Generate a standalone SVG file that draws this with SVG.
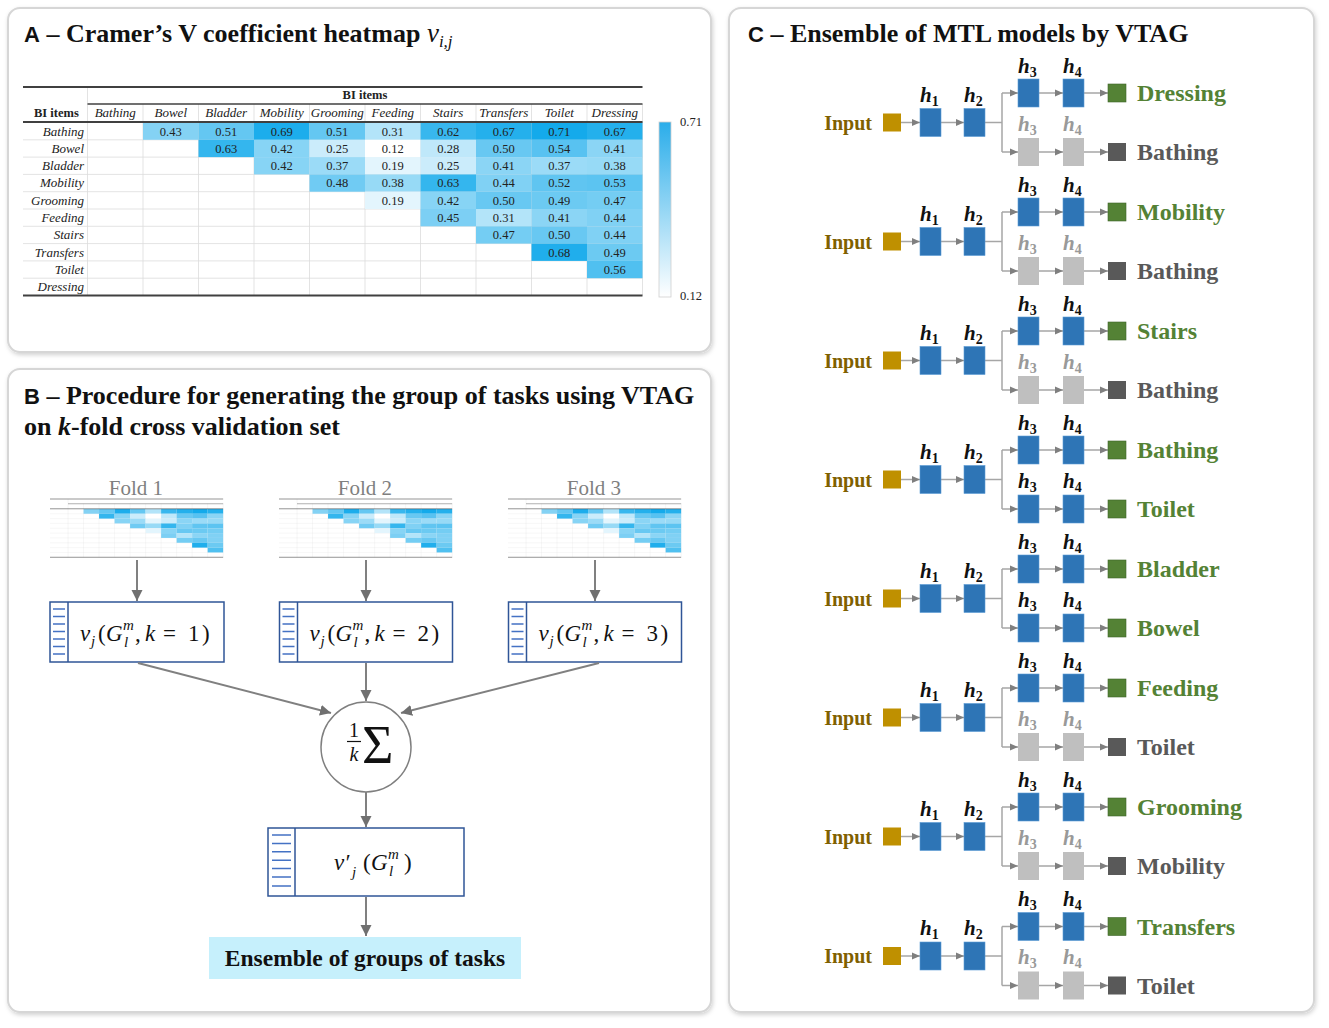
<svg xmlns="http://www.w3.org/2000/svg" width="1329" height="1028" viewBox="0 0 1329 1028">
<style>
.panel{fill:#fff;stroke:#d6d6d6;stroke-width:2;filter:url(#sh)}
.ttl{font-family:"Liberation Serif",serif;font-weight:bold;font-size:26px;fill:#111}
.ttlA{font-family:"Liberation Sans",sans-serif;font-weight:bold;font-size:22px}
.hm{font-family:"Liberation Serif",serif;font-size:12.5px;fill:#222}
.hmi{font-style:italic;font-size:13px}
.hmb{font-weight:bold}
.num{text-anchor:middle}
.grid{stroke:#dcdcdc;stroke-width:0.8;fill:none}
.rule{stroke:#404040;stroke-width:2}
.math{font-family:"Liberation Serif","DejaVu Serif",serif;font-size:23px;fill:#111}
.it{font-style:italic}
.sc{font-size:15px}
.box{fill:#fff;stroke:#2F5597;stroke-width:1.5}
.strip{stroke:#4472C4;stroke-width:1.5}
.fold{font-family:"Liberation Serif",serif;font-size:21px;fill:#7f7f7f;text-anchor:middle}
.conB{stroke:#808080;stroke-width:2;fill:none;marker-end:url(#a2)}
.conC{stroke:#a6a6a6;stroke-width:1.5;fill:none}
.arr{marker-end:url(#a1)}
.inp{font-family:"Liberation Serif",serif;font-weight:bold;font-size:20px;fill:#7F6000;text-anchor:end}
.gold{fill:#BF9000}
.hb{fill:#2E75B6;stroke:#5b9bd5;stroke-width:0.6}
.hg{fill:#BFBFBF}
.og{fill:#548235;stroke:#3f6428;stroke-width:0.6}
.od{fill:#595959}
.hl{font-family:"Liberation Serif",serif;font-weight:bold;font-style:italic;font-size:21px;fill:#111}
.g{fill:#999}
.sub{font-size:14px;font-style:normal}
.out{font-family:"Liberation Serif",serif;font-weight:bold;font-size:24px}
.lg{fill:#548235}
.ld{fill:#595959}
.ens{fill:#C6F0FC}
.enst{font-family:"Liberation Serif",serif;font-weight:bold;font-size:23.5px;fill:#111;text-anchor:middle}
</style>
<defs>
<filter id="sh" x="-3%" y="-3%" width="106%" height="106%"><feDropShadow dx="1" dy="2" stdDeviation="2" flood-color="#000" flood-opacity="0.18"/></filter>
<linearGradient id="gb" x1="0" y1="0" x2="0" y2="1"><stop offset="0" stop-color="#2AADEA"/><stop offset="1" stop-color="#ffffff"/></linearGradient>
<marker id="a1" markerUnits="userSpaceOnUse" markerWidth="8" markerHeight="8" refX="8" refY="4" orient="auto"><path d="M0,0.5 L8,4 L0,7.5z" fill="#7f7f7f"/></marker>
<marker id="a2" markerUnits="userSpaceOnUse" markerWidth="12" markerHeight="12" refX="11" refY="6" orient="auto"><path d="M0,0.5 L11,6 L0,11.5z" fill="#707070"/></marker>
<g id="trunkRects">
<rect class="gold" x="883" y="-9" width="18" height="18"/>
<rect class="hb" x="920" y="-14" width="21" height="28"/>
<rect class="hb" x="964" y="-14" width="21" height="28"/>
</g>
<g id="armB"><rect class="hb" x="1018" y="-14" width="21" height="28"/><rect class="hb" x="1063" y="-14" width="21" height="28"/></g>
<g id="armG"><rect class="hg" x="1018" y="-14" width="21" height="28"/><rect class="hg" x="1063" y="-14" width="21" height="28"/></g>
<g id="trunkLinks">
<line class="conC arr" x1="901" y1="0" x2="920" y2="0"/>
<line class="conC arr" x1="941" y1="0" x2="964" y2="0"/>
<path class="conC" d="M985,0H1002M1002,-29.5V29.5"/>
<line class="conC arr" x1="1002" y1="-29.5" x2="1018" y2="-29.5"/>
<line class="conC arr" x1="1002" y1="29.5" x2="1018" y2="29.5"/>
</g>
<g id="armLinks">
<line class="conC arr" x1="1039" y1="0" x2="1063" y2="0"/>
<line class="conC arr" x1="1084" y1="0" x2="1108" y2="0"/>
</g>
<g id="boxStrip">
<path class="strip" d="M53,609H65M53,616.5H65M53,624H65M53,631.5H65M53,639H65M53,646.5H65M53,654H65"/>
</g>
</defs>

<rect class="panel" x="8" y="8" width="703" height="344" rx="12"/>
<rect class="panel" x="8" y="369" width="703" height="643" rx="12"/>
<rect class="panel" x="729" y="8" width="585" height="1004" rx="12"/>

<!-- Panel A -->
<g id="panelA">
<text class="ttl" x="24" y="42"><tspan class="ttlA">A</tspan> – Cramer’s V coefficient heatmap <tspan font-style="italic" font-weight="normal" style="font-size:27px">v</tspan><tspan font-style="italic" font-weight="normal" style="font-size:17px" dy="5">i,j</tspan></text>
<g id="hmShapes">
<path class="grid" d="M87.5,87V295.5M143,104V295.5M198.5,104V295.5M254,104V295.5M309.5,104V295.5M365,104V295.5M420.5,104V295.5M476,104V295.5M531.5,104V295.5M587,104V295.5M642.5,104V295.5M23,139.8H642.5M23,157.1H642.5M23,174.4H642.5M23,191.7H642.5M23,209H642.5M23,226.3H642.5M23,243.6H642.5M23,260.9H642.5M23,278.2H642.5"/>
<g id="cells">
<rect x="143" y="122.5" width="55.5" height="17.3" fill="#84D2F4"/>
<rect x="198.5" y="122.5" width="55.5" height="17.3" fill="#64C7F2"/>
<rect x="254" y="122.5" width="55.5" height="17.3" fill="#1CADEC"/>
<rect x="309.5" y="122.5" width="55.5" height="17.3" fill="#64C7F2"/>
<rect x="365" y="122.5" width="55.5" height="17.3" fill="#B3E4F9"/>
<rect x="420.5" y="122.5" width="55.5" height="17.3" fill="#38B7EE"/>
<rect x="476" y="122.5" width="55.5" height="17.3" fill="#24B0EC"/>
<rect x="531.5" y="122.5" width="55.5" height="17.3" fill="#14AAEB"/>
<rect x="587" y="122.5" width="55.5" height="17.3" fill="#24B0EC"/>
<rect x="198.5" y="139.8" width="55.5" height="17.3" fill="#34B6EE"/>
<rect x="254" y="139.8" width="55.5" height="17.3" fill="#87D4F5"/>
<rect x="309.5" y="139.8" width="55.5" height="17.3" fill="#CBECFB"/>
<rect x="365" y="139.8" width="55.5" height="17.3" fill="#FFFFFF"/>
<rect x="420.5" y="139.8" width="55.5" height="17.3" fill="#BFE8FA"/>
<rect x="476" y="139.8" width="55.5" height="17.3" fill="#68C8F2"/>
<rect x="531.5" y="139.8" width="55.5" height="17.3" fill="#58C2F1"/>
<rect x="587" y="139.8" width="55.5" height="17.3" fill="#8BD5F5"/>
<rect x="254" y="157.1" width="55.5" height="17.3" fill="#87D4F5"/>
<rect x="309.5" y="157.1" width="55.5" height="17.3" fill="#9BDBF7"/>
<rect x="365" y="157.1" width="55.5" height="17.3" fill="#E3F5FD"/>
<rect x="420.5" y="157.1" width="55.5" height="17.3" fill="#CBECFB"/>
<rect x="476" y="157.1" width="55.5" height="17.3" fill="#8BD5F5"/>
<rect x="531.5" y="157.1" width="55.5" height="17.3" fill="#9BDBF7"/>
<rect x="587" y="157.1" width="55.5" height="17.3" fill="#97DAF6"/>
<rect x="309.5" y="174.4" width="55.5" height="17.3" fill="#70CBF3"/>
<rect x="365" y="174.4" width="55.5" height="17.3" fill="#97DAF6"/>
<rect x="420.5" y="174.4" width="55.5" height="17.3" fill="#34B6EE"/>
<rect x="476" y="174.4" width="55.5" height="17.3" fill="#80D1F4"/>
<rect x="531.5" y="174.4" width="55.5" height="17.3" fill="#60C5F1"/>
<rect x="587" y="174.4" width="55.5" height="17.3" fill="#5CC4F1"/>
<rect x="365" y="191.7" width="55.5" height="17.3" fill="#E3F5FD"/>
<rect x="420.5" y="191.7" width="55.5" height="17.3" fill="#87D4F5"/>
<rect x="476" y="191.7" width="55.5" height="17.3" fill="#68C8F2"/>
<rect x="531.5" y="191.7" width="55.5" height="17.3" fill="#6CCAF2"/>
<rect x="587" y="191.7" width="55.5" height="17.3" fill="#74CDF3"/>
<rect x="420.5" y="209" width="55.5" height="17.3" fill="#7CCFF4"/>
<rect x="476" y="209" width="55.5" height="17.3" fill="#B3E4F9"/>
<rect x="531.5" y="209" width="55.5" height="17.3" fill="#8BD5F5"/>
<rect x="587" y="209" width="55.5" height="17.3" fill="#80D1F4"/>
<rect x="476" y="226.3" width="55.5" height="17.3" fill="#74CDF3"/>
<rect x="531.5" y="226.3" width="55.5" height="17.3" fill="#68C8F2"/>
<rect x="587" y="226.3" width="55.5" height="17.3" fill="#80D1F4"/>
<rect x="531.5" y="243.6" width="55.5" height="17.3" fill="#20AEEC"/>
<rect x="587" y="243.6" width="55.5" height="17.3" fill="#6CCAF2"/>
<rect x="587" y="260.9" width="55.5" height="17.3" fill="#50C0F0"/>
</g>
<path class="rule" d="M23,87H642.5M23,122H642.5M23,295.5H642.5"/>
<path stroke="#404040" stroke-width="1.5" d="M87.5,104H642.5"/>
</g>
<g id="hmText">
<text class="hm hmb" x="365" y="99" text-anchor="middle">BI items</text>
<text class="hm hmb" x="34" y="117">BI items</text>
<text class="hm hmi num" y="117"><tspan x="115.25">Bathing</tspan><tspan x="170.75">Bowel</tspan><tspan x="226.25">Bladder</tspan><tspan x="281.75">Mobility</tspan><tspan x="337.25">Grooming</tspan><tspan x="392.75">Feeding</tspan><tspan x="448.25">Stairs</tspan><tspan x="503.75">Transfers</tspan><tspan x="559.25">Toilet</tspan><tspan x="614.75">Dressing</tspan></text>
<text class="hm hmi" text-anchor="end"><tspan x="84" y="135.5">Bathing</tspan><tspan x="84" y="152.8">Bowel</tspan><tspan x="84" y="170.1">Bladder</tspan><tspan x="84" y="187.4">Mobility</tspan><tspan x="84" y="204.7">Grooming</tspan><tspan x="84" y="222">Feeding</tspan><tspan x="84" y="239.3">Stairs</tspan><tspan x="84" y="256.6">Transfers</tspan><tspan x="84" y="273.9">Toilet</tspan><tspan x="84" y="291.2">Dressing</tspan></text>
<text class="hm num" y="135.5"><tspan x="170.75">0.43</tspan><tspan x="226.25">0.51</tspan><tspan x="281.75">0.69</tspan><tspan x="337.25">0.51</tspan><tspan x="392.75">0.31</tspan><tspan x="448.25">0.62</tspan><tspan x="503.75">0.67</tspan><tspan x="559.25">0.71</tspan><tspan x="614.75">0.67</tspan></text>
<text class="hm num" y="152.8"><tspan x="226.25">0.63</tspan><tspan x="281.75">0.42</tspan><tspan x="337.25">0.25</tspan><tspan x="392.75">0.12</tspan><tspan x="448.25">0.28</tspan><tspan x="503.75">0.50</tspan><tspan x="559.25">0.54</tspan><tspan x="614.75">0.41</tspan></text>
<text class="hm num" y="170.1"><tspan x="281.75">0.42</tspan><tspan x="337.25">0.37</tspan><tspan x="392.75">0.19</tspan><tspan x="448.25">0.25</tspan><tspan x="503.75">0.41</tspan><tspan x="559.25">0.37</tspan><tspan x="614.75">0.38</tspan></text>
<text class="hm num" y="187.4"><tspan x="337.25">0.48</tspan><tspan x="392.75">0.38</tspan><tspan x="448.25">0.63</tspan><tspan x="503.75">0.44</tspan><tspan x="559.25">0.52</tspan><tspan x="614.75">0.53</tspan></text>
<text class="hm num" y="204.7"><tspan x="392.75">0.19</tspan><tspan x="448.25">0.42</tspan><tspan x="503.75">0.50</tspan><tspan x="559.25">0.49</tspan><tspan x="614.75">0.47</tspan></text>
<text class="hm num" y="222"><tspan x="448.25">0.45</tspan><tspan x="503.75">0.31</tspan><tspan x="559.25">0.41</tspan><tspan x="614.75">0.44</tspan></text>
<text class="hm num" y="239.3"><tspan x="503.75">0.47</tspan><tspan x="559.25">0.50</tspan><tspan x="614.75">0.44</tspan></text>
<text class="hm num" y="256.6"><tspan x="559.25">0.68</tspan><tspan x="614.75">0.49</tspan></text>
<text class="hm num" y="273.9"><tspan x="614.75">0.56</tspan></text>
</g>
<g id="colorbar">
<rect x="659" y="122" width="12" height="175" fill="url(#gb)" stroke="#cfcfcf" stroke-width="0.8"/>
<text class="hm" x="680" y="126">0.71</text>
<text class="hm" x="680" y="300">0.12</text>
</g>
</g>

<!-- Panel B -->
<g id="panelB">
<text class="ttl" x="24" y="404"><tspan class="ttlA">B</tspan> – Procedure for generating the group of tasks using VTAG</text>
<text class="ttl" x="24" y="435">on <tspan font-style="italic">k</tspan>-fold cross validation set</text>

<g id="fold1">
<text class="fold" x="136" y="495">Fold 1</text>
<use href="#hmShapes" transform="translate(50,499) scale(0.2795) translate(-23,-87)"/>
</g>
<g id="fold2">
<text class="fold" x="365" y="495">Fold 2</text>
<use href="#hmShapes" transform="translate(279,499) scale(0.2795) translate(-23,-87)"/>
</g>
<g id="fold3">
<text class="fold" x="594" y="495">Fold 3</text>
<use href="#hmShapes" transform="translate(508,499) scale(0.2795) translate(-23,-87)"/>
</g>

<g id="box1">
<rect class="box" x="50" y="602" width="174" height="60"/>
<line stroke="#2F5597" stroke-width="1.5" x1="68" y1="602" x2="68" y2="662"/>
<use href="#boxStrip"/>
<text class="math"><tspan class="it" x="80" y="641">v</tspan><tspan class="it sc" x="91" y="646">j</tspan><tspan x="98" y="641">(</tspan><tspan class="it" x="106" y="641">G</tspan><tspan class="it sc" x="123" y="630">m</tspan><tspan class="it sc" x="124" y="647">l</tspan><tspan x="135" y="641">,</tspan><tspan class="it" x="145" y="641">k</tspan><tspan x="163" y="641">=</tspan><tspan x="188" y="641">1</tspan><tspan x="202" y="641">)</tspan></text>
</g>
<g id="box2" transform="translate(229.5,0)">
<rect class="box" x="50" y="602" width="173" height="60"/>
<line stroke="#2F5597" stroke-width="1.5" x1="68" y1="602" x2="68" y2="662"/>
<use href="#boxStrip"/>
<text class="math"><tspan class="it" x="80" y="641">v</tspan><tspan class="it sc" x="91" y="646">j</tspan><tspan x="98" y="641">(</tspan><tspan class="it" x="106" y="641">G</tspan><tspan class="it sc" x="123" y="630">m</tspan><tspan class="it sc" x="124" y="647">l</tspan><tspan x="135" y="641">,</tspan><tspan class="it" x="145" y="641">k</tspan><tspan x="163" y="641">=</tspan><tspan x="188" y="641">2</tspan><tspan x="202" y="641">)</tspan></text>
</g>
<g id="box3" transform="translate(458.5,0)">
<rect class="box" x="50" y="602" width="173" height="60"/>
<line stroke="#2F5597" stroke-width="1.5" x1="68" y1="602" x2="68" y2="662"/>
<use href="#boxStrip"/>
<text class="math"><tspan class="it" x="80" y="641">v</tspan><tspan class="it sc" x="91" y="646">j</tspan><tspan x="98" y="641">(</tspan><tspan class="it" x="106" y="641">G</tspan><tspan class="it sc" x="123" y="630">m</tspan><tspan class="it sc" x="124" y="647">l</tspan><tspan x="135" y="641">,</tspan><tspan class="it" x="145" y="641">k</tspan><tspan x="163" y="641">=</tspan><tspan x="188" y="641">3</tspan><tspan x="202" y="641">)</tspan></text>
</g>

<g id="sum">
<circle cx="366" cy="747" r="45" fill="#fff" stroke="#7f7f7f" stroke-width="1.5"/>
<text class="math" x="354" y="737" text-anchor="middle" style="font-size:20px">1</text>
<line x1="347" y1="741.5" x2="361" y2="741.5" stroke="#111" stroke-width="1.2"/>
<text class="math it" x="354" y="761" text-anchor="middle" style="font-size:20px">k</text>
<text class="math" x="362" y="763" style="font-size:54px">Σ</text>
</g>

<g id="vbox">
<rect class="box" x="268" y="828" width="196" height="68"/>
<line stroke="#2F5597" stroke-width="1.5" x1="295" y1="828" x2="295" y2="896"/>
<path class="strip" d="M272,835H291M272,843.4H291M272,851.8H291M272,860.2H291M272,868.6H291M272,877H291M272,886H291"/>
<text class="math"><tspan class="it" x="334" y="870">v′</tspan><tspan class="it sc" x="352" y="877">j</tspan><tspan x="363" y="870">(</tspan><tspan class="it" x="371" y="870">G</tspan><tspan class="it sc" x="388" y="859">m</tspan><tspan class="it sc" x="389" y="876">l</tspan><tspan x="404" y="870">)</tspan></text>
</g>

<g id="ensemble">
<rect class="ens" x="209" y="937" width="312" height="42"/>
<text class="enst" x="365" y="966">Ensemble of groups of tasks</text>
</g>

<g id="connectorsB">
<line class="conB" x1="137" y1="560" x2="137" y2="601"/>
<line class="conB" x1="366" y1="560" x2="366" y2="601"/>
<line class="conB" x1="595" y1="560" x2="595" y2="601"/>
<line class="conB" x1="138" y1="663" x2="331" y2="713"/>
<line class="conB" x1="366" y1="663" x2="366" y2="701"/>
<line class="conB" x1="599" y1="663" x2="401" y2="713"/>
<line class="conB" x1="366" y1="792" x2="366" y2="827"/>
<line class="conB" x1="366" y1="897" x2="366" y2="936"/>
</g>
</g>

<!-- Panel C -->
<g id="panelC">
<text class="ttl" x="748" y="42"><tspan class="ttlA">C</tspan> – Ensemble of MTL models by VTAG</text>

<g id="connectorsC">
<use href="#trunkLinks" y="122.5"/><use href="#armLinks" y="93"/><use href="#armLinks" y="152"/>
<use href="#trunkLinks" y="241.5"/><use href="#armLinks" y="212"/><use href="#armLinks" y="271"/>
<use href="#trunkLinks" y="360.5"/><use href="#armLinks" y="331"/><use href="#armLinks" y="390"/>
<use href="#trunkLinks" y="479.5"/><use href="#armLinks" y="450"/><use href="#armLinks" y="509"/>
<use href="#trunkLinks" y="598.5"/><use href="#armLinks" y="569"/><use href="#armLinks" y="628"/>
<use href="#trunkLinks" y="717.5"/><use href="#armLinks" y="688"/><use href="#armLinks" y="747"/>
<use href="#trunkLinks" y="836.5"/><use href="#armLinks" y="807"/><use href="#armLinks" y="866"/>
<use href="#trunkLinks" y="956"/><use href="#armLinks" y="926.5"/><use href="#armLinks" y="985.5"/>
</g>

<g id="model1" transform="translate(0,122.5)">
<text class="inp" x="872" y="7">Input</text>
<use href="#trunkRects"/><use href="#armB" y="-29.5"/><use href="#armG" y="29.5"/>
<rect class="og" x="1108" y="-38.5" width="18" height="18"/><rect class="od" x="1108" y="20.5" width="18" height="18"/>
<text class="hl" x="920" y="-21">h<tspan class="sub" dy="4">1</tspan></text>
<text class="hl" x="964" y="-21">h<tspan class="sub" dy="4">2</tspan></text>
<text class="hl" x="1018" y="-50">h<tspan class="sub" dy="4">3</tspan></text>
<text class="hl" x="1063" y="-50">h<tspan class="sub" dy="4">4</tspan></text>
<text class="hl g" x="1018" y="8">h<tspan class="sub" dy="4">3</tspan></text>
<text class="hl g" x="1063" y="8">h<tspan class="sub" dy="4">4</tspan></text>
<text class="out lg" x="1137" y="-21.5">Dressing</text>
<text class="out ld" x="1137" y="37.5">Bathing</text>
</g>

<g id="model2" transform="translate(0,241.5)">
<text class="inp" x="872" y="7">Input</text>
<use href="#trunkRects"/><use href="#armB" y="-29.5"/><use href="#armG" y="29.5"/>
<rect class="og" x="1108" y="-38.5" width="18" height="18"/><rect class="od" x="1108" y="20.5" width="18" height="18"/>
<text class="hl" x="920" y="-21">h<tspan class="sub" dy="4">1</tspan></text>
<text class="hl" x="964" y="-21">h<tspan class="sub" dy="4">2</tspan></text>
<text class="hl" x="1018" y="-50">h<tspan class="sub" dy="4">3</tspan></text>
<text class="hl" x="1063" y="-50">h<tspan class="sub" dy="4">4</tspan></text>
<text class="hl g" x="1018" y="8">h<tspan class="sub" dy="4">3</tspan></text>
<text class="hl g" x="1063" y="8">h<tspan class="sub" dy="4">4</tspan></text>
<text class="out lg" x="1137" y="-21.5">Mobility</text>
<text class="out ld" x="1137" y="37.5">Bathing</text>
</g>

<g id="model3" transform="translate(0,360.5)">
<text class="inp" x="872" y="7">Input</text>
<use href="#trunkRects"/><use href="#armB" y="-29.5"/><use href="#armG" y="29.5"/>
<rect class="og" x="1108" y="-38.5" width="18" height="18"/><rect class="od" x="1108" y="20.5" width="18" height="18"/>
<text class="hl" x="920" y="-21">h<tspan class="sub" dy="4">1</tspan></text>
<text class="hl" x="964" y="-21">h<tspan class="sub" dy="4">2</tspan></text>
<text class="hl" x="1018" y="-50">h<tspan class="sub" dy="4">3</tspan></text>
<text class="hl" x="1063" y="-50">h<tspan class="sub" dy="4">4</tspan></text>
<text class="hl g" x="1018" y="8">h<tspan class="sub" dy="4">3</tspan></text>
<text class="hl g" x="1063" y="8">h<tspan class="sub" dy="4">4</tspan></text>
<text class="out lg" x="1137" y="-21.5">Stairs</text>
<text class="out ld" x="1137" y="37.5">Bathing</text>
</g>

<g id="model4" transform="translate(0,479.5)">
<text class="inp" x="872" y="7">Input</text>
<use href="#trunkRects"/><use href="#armB" y="-29.5"/><use href="#armB" y="29.5"/>
<rect class="og" x="1108" y="-38.5" width="18" height="18"/><rect class="og" x="1108" y="20.5" width="18" height="18"/>
<text class="hl" x="920" y="-21">h<tspan class="sub" dy="4">1</tspan></text>
<text class="hl" x="964" y="-21">h<tspan class="sub" dy="4">2</tspan></text>
<text class="hl" x="1018" y="-50">h<tspan class="sub" dy="4">3</tspan></text>
<text class="hl" x="1063" y="-50">h<tspan class="sub" dy="4">4</tspan></text>
<text class="hl" x="1018" y="8">h<tspan class="sub" dy="4">3</tspan></text>
<text class="hl" x="1063" y="8">h<tspan class="sub" dy="4">4</tspan></text>
<text class="out lg" x="1137" y="-21.5">Bathing</text>
<text class="out lg" x="1137" y="37.5">Toilet</text>
</g>

<g id="model5" transform="translate(0,598.5)">
<text class="inp" x="872" y="7">Input</text>
<use href="#trunkRects"/><use href="#armB" y="-29.5"/><use href="#armB" y="29.5"/>
<rect class="og" x="1108" y="-38.5" width="18" height="18"/><rect class="og" x="1108" y="20.5" width="18" height="18"/>
<text class="hl" x="920" y="-21">h<tspan class="sub" dy="4">1</tspan></text>
<text class="hl" x="964" y="-21">h<tspan class="sub" dy="4">2</tspan></text>
<text class="hl" x="1018" y="-50">h<tspan class="sub" dy="4">3</tspan></text>
<text class="hl" x="1063" y="-50">h<tspan class="sub" dy="4">4</tspan></text>
<text class="hl" x="1018" y="8">h<tspan class="sub" dy="4">3</tspan></text>
<text class="hl" x="1063" y="8">h<tspan class="sub" dy="4">4</tspan></text>
<text class="out lg" x="1137" y="-21.5">Bladder</text>
<text class="out lg" x="1137" y="37.5">Bowel</text>
</g>

<g id="model6" transform="translate(0,717.5)">
<text class="inp" x="872" y="7">Input</text>
<use href="#trunkRects"/><use href="#armB" y="-29.5"/><use href="#armG" y="29.5"/>
<rect class="og" x="1108" y="-38.5" width="18" height="18"/><rect class="od" x="1108" y="20.5" width="18" height="18"/>
<text class="hl" x="920" y="-21">h<tspan class="sub" dy="4">1</tspan></text>
<text class="hl" x="964" y="-21">h<tspan class="sub" dy="4">2</tspan></text>
<text class="hl" x="1018" y="-50">h<tspan class="sub" dy="4">3</tspan></text>
<text class="hl" x="1063" y="-50">h<tspan class="sub" dy="4">4</tspan></text>
<text class="hl g" x="1018" y="8">h<tspan class="sub" dy="4">3</tspan></text>
<text class="hl g" x="1063" y="8">h<tspan class="sub" dy="4">4</tspan></text>
<text class="out lg" x="1137" y="-21.5">Feeding</text>
<text class="out ld" x="1137" y="37.5">Toilet</text>
</g>

<g id="model7" transform="translate(0,836.5)">
<text class="inp" x="872" y="7">Input</text>
<use href="#trunkRects"/><use href="#armB" y="-29.5"/><use href="#armG" y="29.5"/>
<rect class="og" x="1108" y="-38.5" width="18" height="18"/><rect class="od" x="1108" y="20.5" width="18" height="18"/>
<text class="hl" x="920" y="-21">h<tspan class="sub" dy="4">1</tspan></text>
<text class="hl" x="964" y="-21">h<tspan class="sub" dy="4">2</tspan></text>
<text class="hl" x="1018" y="-50">h<tspan class="sub" dy="4">3</tspan></text>
<text class="hl" x="1063" y="-50">h<tspan class="sub" dy="4">4</tspan></text>
<text class="hl g" x="1018" y="8">h<tspan class="sub" dy="4">3</tspan></text>
<text class="hl g" x="1063" y="8">h<tspan class="sub" dy="4">4</tspan></text>
<text class="out lg" x="1137" y="-21.5">Grooming</text>
<text class="out ld" x="1137" y="37.5">Mobility</text>
</g>

<g id="model8" transform="translate(0,956)">
<text class="inp" x="872" y="7">Input</text>
<use href="#trunkRects"/><use href="#armB" y="-29.5"/><use href="#armG" y="29.5"/>
<rect class="og" x="1108" y="-38.5" width="18" height="18"/><rect class="od" x="1108" y="20.5" width="18" height="18"/>
<text class="hl" x="920" y="-21">h<tspan class="sub" dy="4">1</tspan></text>
<text class="hl" x="964" y="-21">h<tspan class="sub" dy="4">2</tspan></text>
<text class="hl" x="1018" y="-50">h<tspan class="sub" dy="4">3</tspan></text>
<text class="hl" x="1063" y="-50">h<tspan class="sub" dy="4">4</tspan></text>
<text class="hl g" x="1018" y="8">h<tspan class="sub" dy="4">3</tspan></text>
<text class="hl g" x="1063" y="8">h<tspan class="sub" dy="4">4</tspan></text>
<text class="out lg" x="1137" y="-21.5">Transfers</text>
<text class="out ld" x="1137" y="37.5">Toilet</text>
</g>
</g>
</svg>
